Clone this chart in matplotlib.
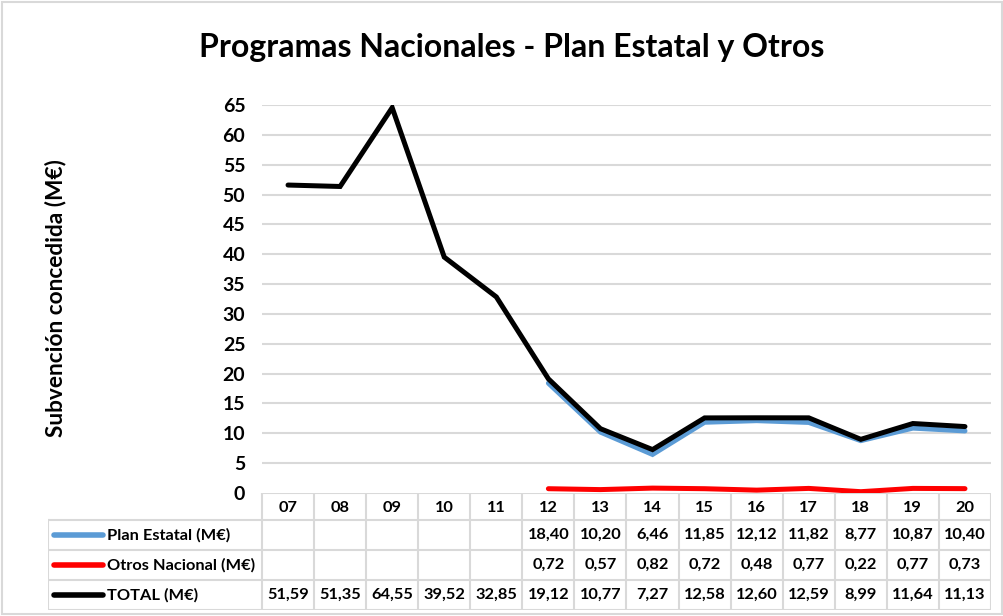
import matplotlib.pyplot as plt
from matplotlib.patches import Rectangle

years = ["07", "08", "09", "10", "11", "12", "13", "14", "15", "16", "17", "18", "19", "20"]
plan_estatal = [None, None, None, None, None, 18.40, 10.20, 6.46, 11.85, 12.12, 11.82, 8.77, 10.87, 10.40]
otros_nacional = [None, None, None, None, None, 0.72, 0.57, 0.82, 0.72, 0.48, 0.77, 0.22, 0.77, 0.73]
total = [51.59, 51.35, 64.55, 39.52, 32.85, 19.12, 10.77, 7.27, 12.58, 12.60, 12.59, 8.99, 11.64, 11.13]

series = [
    ("Plan Estatal (M€)", plan_estatal, "#5B9BD5"),
    ("Otros Nacional (M€)", otros_nacional, "#FF0000"),
    ("TOTAL (M€)", total, "#000000"),
]

FONT = ["Lato", "DejaVu Sans"]
plt.rcParams["font.family"] = FONT
GRID = "#D9D9D9"
W, H = 1004, 616

fig = plt.figure(figsize=(W / 100, H / 100), dpi=100)
fig.patches.append(Rectangle((2 / W, 2 / H), 1 - 4 / W, 1 - 4 / H, transform=fig.transFigure,
                             fill=False, edgecolor=GRID, linewidth=1.5))

left, right, top, bottom = 262, 991, 105, 493
ax = fig.add_axes([left / W, 1 - bottom / H, (right - left) / W, (bottom - top) / H])
n = len(years)
xs = list(range(n))
for name, vals, color in series:
    pts = [(x, v) for x, v in zip(xs, vals) if v is not None]
    ax.plot([p[0] for p in pts], [p[1] for p in pts], color=color, linewidth=3.6,
            solid_joinstyle="miter", solid_capstyle="round", zorder=3)

ax.set_xlim(-0.5, n - 0.5)
ax.set_ylim(0, 65)
ax.set_yticks(range(0, 66, 5))
ax.set_xticks([])
for y in range(5, 66, 5):
    ax.axhline(y, color=GRID, linewidth=1.5, zorder=1)
for s in ax.spines.values():
    s.set_visible(False)
ax.tick_params(axis="y", length=0, pad=12, labelsize=14)
for lab in ax.get_yticklabels():
    lab.set_fontweight("bold")
ax.set_ylabel("Subvención concedida (M€)", fontsize=16.3, fontweight="bold")
ax.yaxis.set_label_coords(66 / W, 1 - 298 / H, transform=fig.transFigure)

fig.text(512 / W, 1 - 48 / H, "Programas Nacionales - Plan Estatal y Otros",
         ha="center", va="center", fontsize=23, fontweight="bold")

# data table under the plot
col_w = (right - left) / n
label_left = 48
x0 = -0.5 - (left - label_left) / col_w
tax = fig.add_axes([label_left / W, 1 - 610 / H, (right - label_left) / W, (610 - bottom) / H])
tax.set_xlim(x0, n - 0.5)
tax.set_ylim(610, bottom)
tax.axis("off")
rows = [bottom, 520, 550, 580, 610]

lw = 1.5
tax.plot([-0.5, n - 0.5], [rows[0], rows[0]], color=GRID, lw=lw)
for r in rows[1:]:
    tax.plot([x0, n - 0.5], [r, r], color=GRID, lw=lw)
for i in range(n + 1):
    tax.plot([i - 0.5, i - 0.5], [rows[0], rows[-1]], color=GRID, lw=lw)
tax.plot([x0, x0], [rows[1], rows[-1]], color=GRID, lw=lw)

TS = 11.8
for i, yr in enumerate(years):
    tax.text(i, (rows[0] + rows[1]) / 2 + 1, yr, ha="center", va="center",
             fontsize=TS, fontweight="bold")

px = 1 / col_w
for k, (name, vals, color) in enumerate(series):
    yc = (rows[k + 1] + rows[k + 2]) / 2
    tax.plot([x0 + 6 * px, x0 + 55 * px], [yc, yc], color=color, lw=4, solid_capstyle="round")
    tax.text(x0 + 59 * px, yc, name, ha="left", va="center", fontsize=TS, fontweight="bold")
    for i, v in enumerate(vals):
        if v is not None:
            tax.text(i, yc, f"{v:.2f}".replace(".", ","), ha="center", va="center",
                     fontsize=TS, fontweight="bold")

fig.savefig("out.png", dpi=100)
